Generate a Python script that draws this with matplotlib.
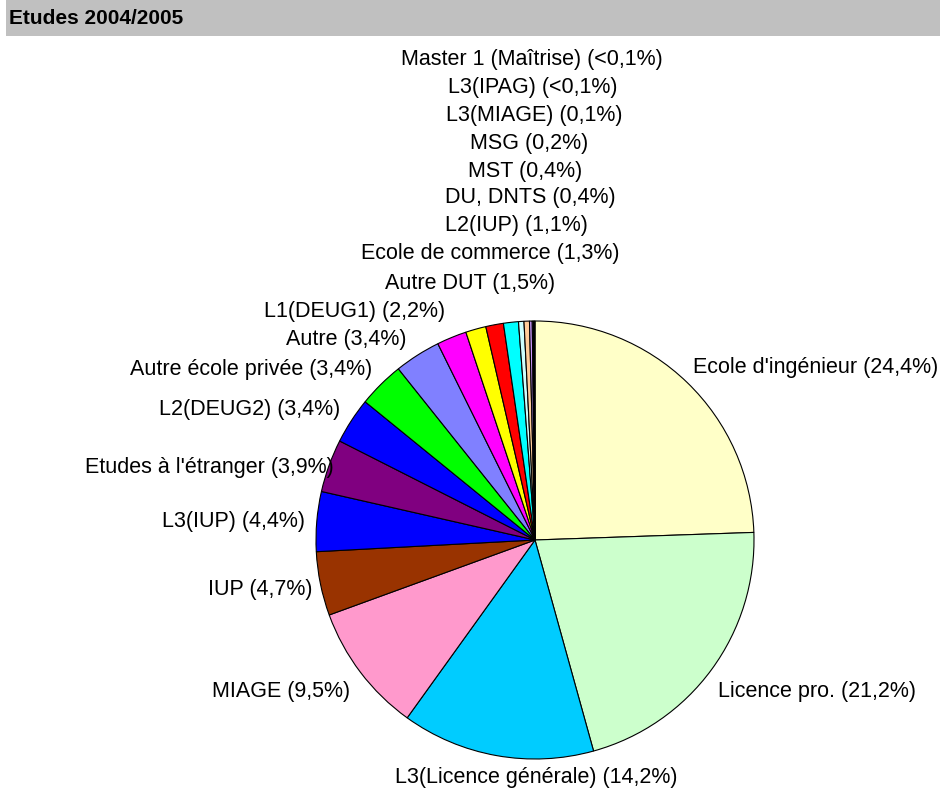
import matplotlib
matplotlib.use("Agg")
import matplotlib.pyplot as plt
from matplotlib.patches import Rectangle

plt.rcParams['font.family'] = ['Liberation Sans', 'DejaVu Sans']

# données
labels = ["Ecole d'ingénieur", "Licence pro.", "L3(Licence générale)", "MIAGE", "IUP",
          "L3(IUP)", "Etudes à l'étranger", "L2(DEUG2)", "Autre école privée", "Autre",
          "L1(DEUG1)", "Autre DUT", "Ecole de commerce", "L2(IUP)", "DU, DNTS",
          "MST", "MSG", "L3(MIAGE)", "L3(IPAG)", "Master 1 (Maîtrise)"]
values = [24.4, 21.2, 14.2, 9.5, 4.7, 4.4, 3.9, 3.4, 3.4, 3.4,
          2.2, 1.5, 1.3, 1.1, 0.4, 0.4, 0.2, 0.1, 0.05, 0.05]
pct_text = ["24,4%", "21,2%", "14,2%", "9,5%", "4,7%", "4,4%", "3,9%", "3,4%", "3,4%", "3,4%",
            "2,2%", "1,5%", "1,3%", "1,1%", "0,4%", "0,4%", "0,2%", "0,1%", "<0,1%", "<0,1%"]
colors = ['#FFFFC8', '#CCFFCC', '#00CCFF', '#FF99CC', '#993300',
          '#0000FF', '#800080', '#0000FF', '#00FF00', '#8080FF',
          '#FF00FF', '#FFFF00', '#FF0000', '#00FFFF', '#CCFFFF',
          '#FFCC99', '#CC99FF', '#9966CC', '#333399', '#000000']

# position des étiquettes (pixels, origine en haut à gauche) : x, y, alignement
label_pos = [(693, 368, 'left'), (718, 692, 'left'), (536, 777, 'center'), (350, 692, 'right'),
             (312, 590, 'right'), (305, 521, 'right'), (334, 468, 'right'), (340, 410, 'right'),
             (372, 370, 'right'), (407, 340, 'right'), (445, 311, 'right'), (470, 283, 'center'),
             (490, 254, 'center'), (516, 226, 'center'), (530, 198, 'center'), (525, 171, 'center'),
             (529, 144, 'center'), (534, 116, 'center'), (533, 88, 'center'), (532, 60, 'center')]

W, H = 940, 791
fig = plt.figure(figsize=(W / 100, H / 100), dpi=100)
ax = fig.add_axes([0, 0, 1, 1])

# bandeau titre
fig.patches.append(Rectangle((6 / W, 1 - 36 / H), 1, 36 / H, transform=fig.transFigure,
                             facecolor='#C0C0C0', edgecolor='none', zorder=0))
fig.text(9 / W, 1 - 18 / H, "Etudes 2004/2005", fontsize=15, fontweight='bold',
         va='center', ha='left')

ax.pie(values, colors=colors, startangle=90, counterclock=False,
       center=(535, H - 540), radius=219, frame=True,
       wedgeprops={'edgecolor': 'black', 'linewidth': 0.8})
ax.set_xlim(0, W)
ax.set_ylim(0, H)
ax.axis('off')

for lab, p, (x, y, ha) in zip(labels, pct_text, label_pos):
    ax.text(x, H - y, f"{lab} ({p})", ha=ha, va='center', fontsize=15.5)

fig.savefig("out.png", dpi=100)
